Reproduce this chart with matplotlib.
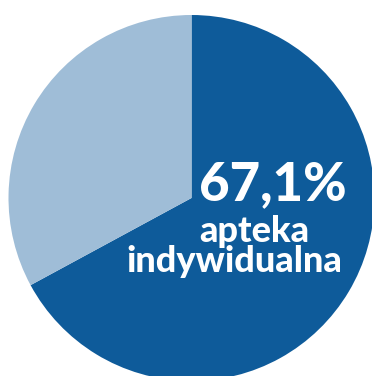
import matplotlib
matplotlib.use("Agg")
import matplotlib.pyplot as plt

# Pharmacy type shares (percent)
labels = ["apteka indywidualna", "pozostałe"]
shares = [67.1, 32.9]
colors = ["#0E5B9A", "#9FBDD7"]

W, H = 372, 376
fig = plt.figure(figsize=(W / 100, H / 100), dpi=100)
ax = fig.add_axes([0, 0, 1, 1])

ax.pie(shares, colors=colors, startangle=90, counterclock=False,
       center=(191.5, H - 198), radius=183, frame=True,
       wedgeprops=dict(linewidth=0, antialiased=True))
ax.set_xlim(0, W)
ax.set_ylim(0, H)
ax.set_aspect("equal")
ax.axis("off")

font = ["Lato", "DejaVu Sans"]
value_text = f"{shares[0]:.1f}%".replace(".", ",")
ax.text(199, H - 200, value_text, color="white", fontsize=38, fontweight=900,
        family=font, ha="left", va="baseline")
ax.text(199, H - 242, "apteka", color="white", fontsize=26, fontweight=900,
        family=font, ha="left", va="baseline")
ax.text(126, H - 272, "indywidualna", color="white", fontsize=26, fontweight=900,
        family=font, ha="left", va="baseline")

fig.savefig("out.png", dpi=100)
